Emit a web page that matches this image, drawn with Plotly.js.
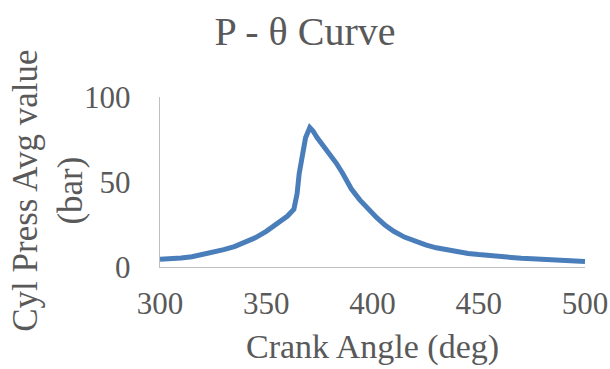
<!DOCTYPE html>
<html>
<head>
<meta charset="utf-8">
<script src="https://cdn.plot.ly/plotly-3.0.1.min.js"></script>
<style>html,body{margin:0;padding:0;background:#fff;}#chart{width:610px;height:369px;}</style>
</head>
<body>
<div id="chart"></div>
<script>
const crankAngle = [300, 305, 310, 315, 320, 325, 330, 335, 340, 345, 350, 355, 360, 363, 364.5, 365.5, 367, 368.5, 370.5, 372, 374, 377, 380, 383, 386, 390, 394, 398, 402, 406, 410, 415, 420, 425, 430, 435, 440, 445, 450, 455, 460, 465, 470, 475, 480, 485, 490, 495, 500];
const pressure = [4.5, 4.6, 5.3, 6, 7.2, 8.5, 10.2, 12, 14.3, 17.3, 21, 25.5, 30, 34, 43, 55, 68, 76, 82, 80, 76, 71, 67, 61, 55, 46, 39.5, 34, 29, 24.5, 21, 17.6, 15, 13, 11.3, 10, 9, 8, 7.3, 6.6, 6, 5.5, 5.1, 4.8, 4.6, 4.5, 4.3, 4.1, 3.2];
const xTicks = [300, 350, 400, 450, 500];
const yTicks = [0, 50, 100];

const FONT = '"Liberation Serif", "Times New Roman", serif';
const GREY = '#595959';

const trace = {
  x: crankAngle, y: pressure, type: 'scatter', mode: 'lines',
  line: {color: '#4a7ebb', width: 5}, hoverinfo: 'skip'
};

const layout = {
  width: 610, height: 369,
  margin: {l: 160, r: 25, t: 97, b: 102},
  paper_bgcolor: '#fff', plot_bgcolor: '#fff',
  showlegend: false,
  font: {family: FONT, color: GREY},
  title: {text: 'P - θ Curve', font: {family: FONT, size: 40, color: GREY},
          xref: 'container', x: 0.5, xanchor: 'center',
          yref: 'container', y: 0.915, yanchor: 'middle'},
  xaxis: {range: [300, 500], tickvals: xTicks, ticktext: xTicks.map(String),
          showgrid: false, zeroline: false, showline: true, linecolor: '#bfbfbf', linewidth: 1.3,
          ticks: '', ticklabelstandoff: 8, tickfont: {family: FONT, size: 31, color: GREY}, fixedrange: true},
  yaxis: {range: [0, 100], tickvals: yTicks, ticktext: yTicks.map(String),
          showgrid: false, zeroline: false, showline: true, linecolor: '#bfbfbf', linewidth: 1.3,
          ticks: '', ticklabelstandoff: 22, tickfont: {family: FONT, size: 31, color: GREY}, fixedrange: true},
  annotations: [
    {text: 'Cyl Press Avg value<br>(bar)', xref: 'paper', yref: 'paper', x: -0.263, y: 0.45,
     xanchor: 'center', yanchor: 'middle', textangle: -90, showarrow: false,
     font: {family: FONT, size: 35, color: GREY}},
    {text: 'Crank Angle (deg)', xref: 'paper', yref: 'paper', x: 0.501, y: -0.47,
     xanchor: 'center', yanchor: 'middle', showarrow: false,
     font: {family: FONT, size: 34, color: GREY}}
  ]
};

Plotly.newPlot('chart', [trace], layout, {displayModeBar: false, staticPlot: true});
</script>
</body>
</html>
